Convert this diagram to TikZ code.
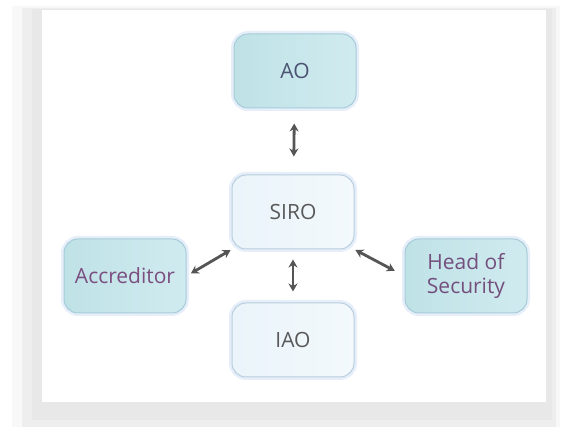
\documentclass[tikz,border=0pt]{standalone}
\usepackage{fontspec}
\setmainfont{Open Sans}
\usetikzlibrary{arrows.meta}
\definecolor{tealleft}{HTML}{BFE2E7}
\definecolor{tealright}{HTML}{D0EBEF}
\definecolor{tealline}{HTML}{A6CCD8}
\definecolor{paleleft}{HTML}{EAF4FA}
\definecolor{paleright}{HTML}{F3F9FC}
\definecolor{paleline}{HTML}{B9CEDC}
\definecolor{glow}{HTML}{D6E4F7}
\definecolor{slatetext}{HTML}{4B5272}
\definecolor{plumtext}{HTML}{7B4E80}
\definecolor{greytext}{HTML}{595959}
\definecolor{arrowgrey}{HTML}{555555}
\definecolor{shadowgrey}{HTML}{E4E4E4}

\begin{document}
\begin{tikzpicture}[x=1pt,y=-1pt]
    \tikzstyle{box}=[rounded corners=14pt, minimum width=122pt, minimum height=74pt, inner sep=2pt, align=center, font=\fontsize{21}{23.5}\selectfont, preaction={draw=glow, line width=6pt, opacity=0.6}]
    \tikzstyle{role}=[box, left color=tealleft, right color=tealright, draw=tealline, line width=1pt]
    \tikzstyle{core}=[box, left color=paleleft, right color=paleright, draw=paleline, line width=1pt, text=greytext]
    \tikzstyle{link}=[arrowgrey, line width=2.8pt, {Stealth[length=8pt,width=9pt]}-{Stealth[length=8pt,width=9pt]}]

    \useasboundingbox (0,0) rectangle (563,427);
    \fill[white] (0,0) rectangle (563,427);
    \fill[shadowgrey, opacity=0.25] (12,6) rectangle (560,427);
    \fill[shadowgrey, opacity=0.45] (22,8) rectangle (556,427);
    \fill[shadowgrey, opacity=0.55] (32,9) rectangle (552,420);
    \fill[white] (42,10) rectangle (546,402);

    \node[role, text=slatetext] (ao) at (295,71) {AO};
    \node[core] (siro) at (293,212) {SIRO};
    \node[role, text=plumtext] (accr) at (125,276) {Accreditor};
    \node[role, text=plumtext!85!slatetext] (head) at (466,276) {Head of\\Security};
    \node[core] (iao) at (293,340) {IAO};

    \draw[link, shorten <=15pt, shorten >=18pt] (ao) -- (siro);
    \draw[link, shorten <=10pt, shorten >=11pt] (siro) -- (iao);
    \draw[link, shorten <=1pt, shorten >=5pt] (siro.south west) -- (accr.east);
    \draw[link, shorten <=1pt, shorten >=11pt] (siro.south east) -- (head.west);
\end{tikzpicture}
\end{document}
